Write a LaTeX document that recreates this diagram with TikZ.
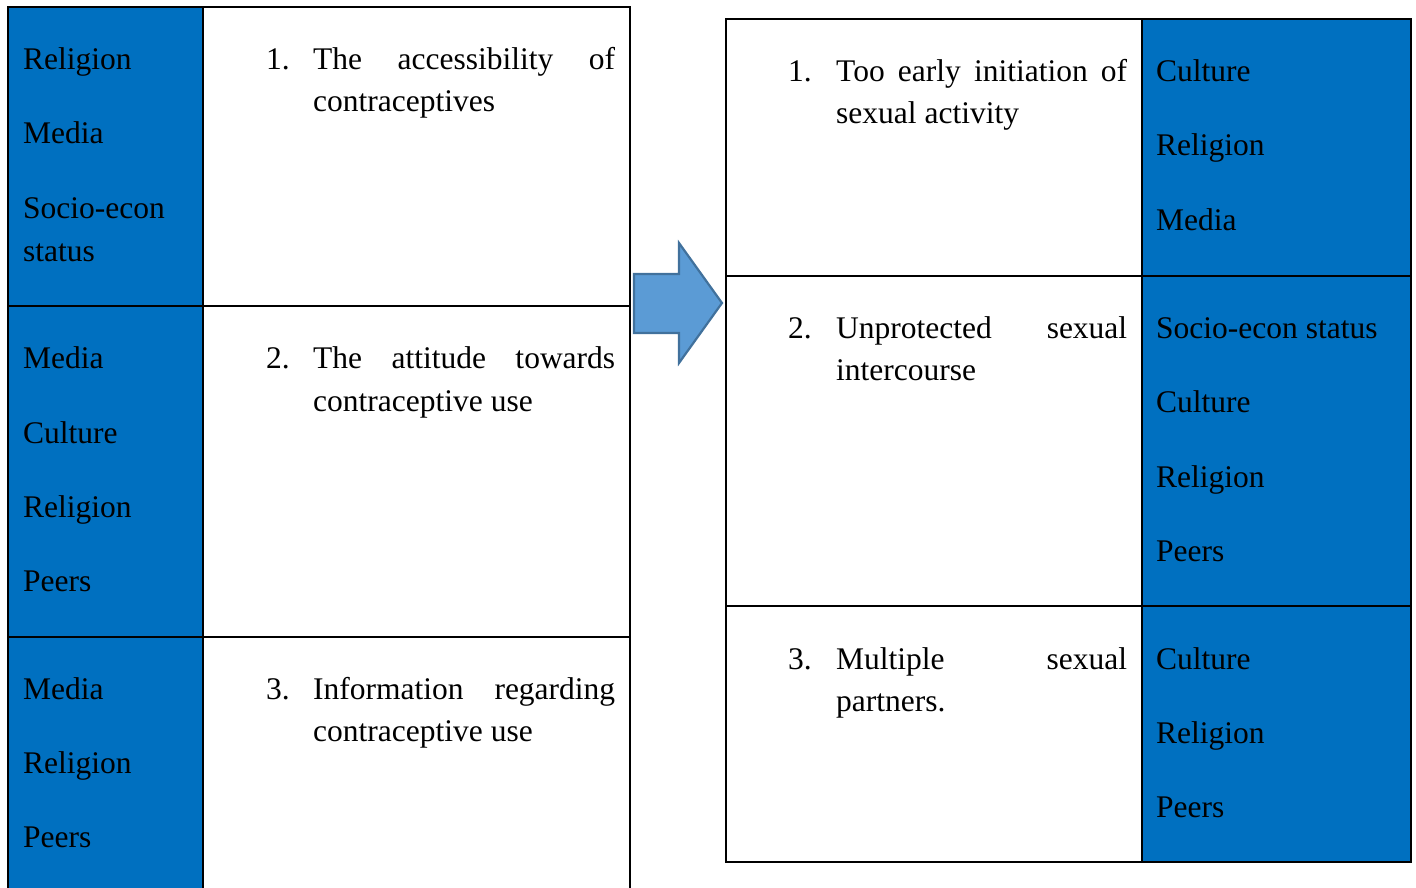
\documentclass[tikz,border=0pt]{standalone}
\usepackage{fontspec}
\setmainfont{Liberation Serif}
\definecolor{cellblue}{HTML}{0070C0}
\definecolor{arrowfill}{HTML}{5B9BD5}
\definecolor{arrowline}{HTML}{41719C}
\begin{document}
\begin{tikzpicture}[x=1pt,y=-1pt,
  grid/.style={line width=2.8pt,black},
  txt/.style={anchor=base west,inner sep=0pt,font=\fontsize{31.5}{43}\selectfont},
]
\useasboundingbox (0,0) rectangle (1416,888);
\begin{scope}
\clip (0,0) rectangle (1416,888);
% left table
\fill[cellblue] (8,7) rectangle (203,900);
\draw[grid] (8,900) -- (8,7) -- (630,7) -- (630,900);
\draw[grid] (203,7) -- (203,900);
\draw[grid] (8,306) -- (630,306);
\draw[grid] (8,637) -- (630,637);
\end{scope}
% right table
\fill[cellblue] (1142,19) rectangle (1411,862);
\draw[grid] (726,19) rectangle (1411,862);
\draw[grid] (1142,19) -- (1142,862);
\draw[grid] (726,276) -- (1411,276);
\draw[grid] (726,606) -- (1411,606);
% arrow
\draw[fill=arrowfill,draw=arrowline,line width=2.2pt,line join=miter]
  (634,274) -- (679,274) -- (679,243) -- (722,303) -- (679,363) -- (679,333) -- (634,333) -- cycle;
% left column texts
\node[txt] (a1) at (23,70) {Religion};
\node[txt] (a2) at (23,144) {Media};
\node[txt] (a3) at (23,218) {Socio-econ};
\node[txt] (a4) at (23,261) {status};
\node[txt] (b1) at (23,368) {Media};
\node[txt] (b2) at (23,443) {Culture};
\node[txt] (b3) at (23,517) {Religion};
\node[txt] (b4) at (23,591) {Peers};
\node[txt] (c1) at (23,699) {Media};
\node[txt] (c2) at (23,773) {Religion};
\node[txt] (c3) at (23,847) {Peers};
% left middle texts
\node[txt] (n1) at (266,70) {1.};
\node[txt] (t1a) at (313,70) {\hbox to 302pt{The\hfill accessibility\hfill of}};
\node[txt] (t1b) at (313,112) {contraceptives};
\node[txt] (n2) at (266,368) {2.};
\node[txt] (t2a) at (313,368) {\hbox to 302pt{The\hfill attitude\hfill towards}};
\node[txt] (t2b) at (313,411) {contraceptive use};
\node[txt] (n3) at (266,699) {3.};
\node[txt] (t3a) at (313,699) {\hbox to 302pt{Information\hfill regarding}};
\node[txt] (t3b) at (313,741) {contraceptive use};
% right middle texts
\node[txt] (m1) at (788,82) {1.};
\node[txt] (s1a) at (836,82) {\hbox to 291pt{Too\hfill early\hfill initiation\hfill of}};
\node[txt] (s1b) at (836,124) {sexual activity};
\node[txt] (m2) at (788,338) {2.};
\node[txt] (s2a) at (836,338) {\hbox to 291pt{Unprotected\hfill sexual}};
\node[txt] (s2b) at (836,380) {intercourse};
\node[txt] (m3) at (788,669) {3.};
\node[txt] (s3a) at (836,669) {\hbox to 291pt{Multiple\hfill sexual}};
\node[txt] (s3b) at (836,711) {partners.};
% right column texts
\node[txt] (d1) at (1156,82) {Culture};
\node[txt] (d2) at (1156,156) {Religion};
\node[txt] (d3) at (1156,230) {Media};
\node[txt] (e1) at (1156,338) {Socio-econ status};
\node[txt] (e2) at (1156,412) {Culture};
\node[txt] (e3) at (1156,487) {Religion};
\node[txt] (e4) at (1156,561) {Peers};
\node[txt] (f1) at (1156,669) {Culture};
\node[txt] (f2) at (1156,743) {Religion};
\node[txt] (f3) at (1156,817) {Peers};
\end{tikzpicture}
\end{document}
